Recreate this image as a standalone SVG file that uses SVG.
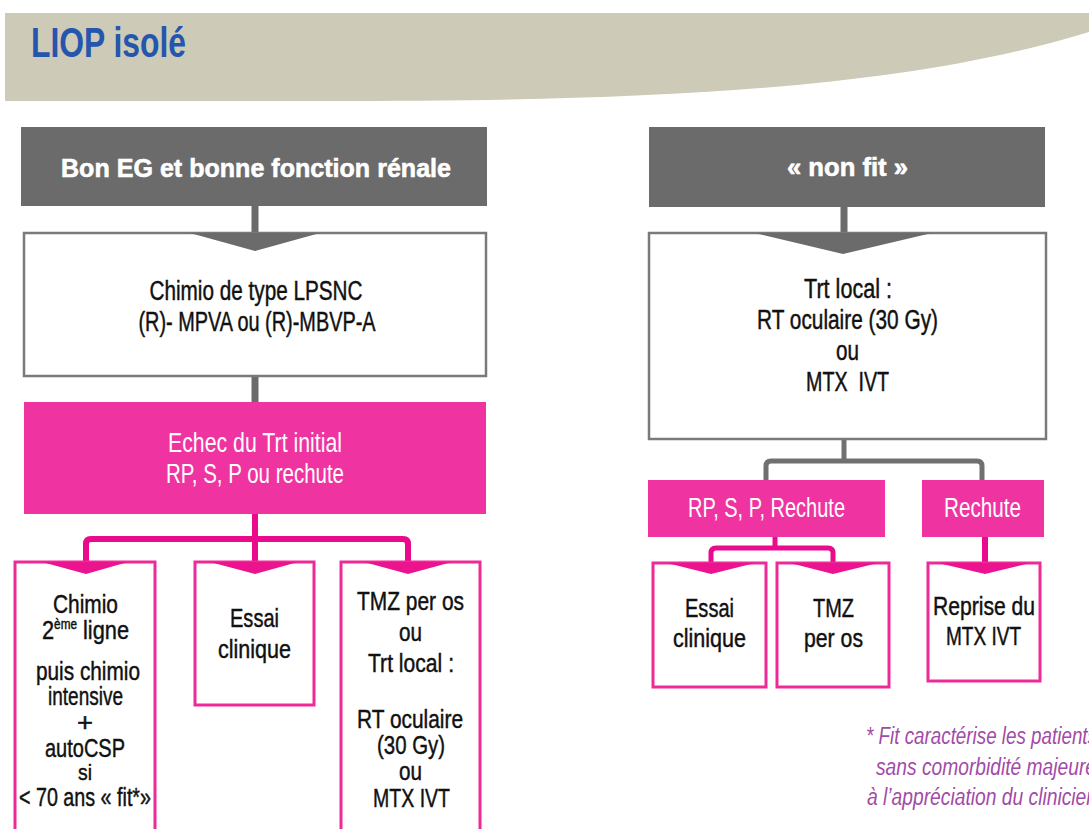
<svg xmlns="http://www.w3.org/2000/svg" width="1089" height="829" viewBox="0 0 1089 829">
<style>
.t{font-family:"Liberation Sans Narrow","Liberation Sans",Arial,sans-serif;font-size:26px;fill:#111;stroke:#111;stroke-width:0.45;text-anchor:middle}
.tl{font-size:27px}
.w{fill:#fff;stroke:none}
.hd{font-family:"Liberation Sans",Arial,sans-serif;font-weight:bold;font-size:26px;fill:#fff;stroke:#fff;stroke-width:0.6;text-anchor:middle}
.gbox{fill:#6b6b6b}
.wbox{fill:#fff;stroke:#7a7a7a;stroke-width:2.5}
.pbox{fill:#ef34a1}
.pwbox{fill:#fff;stroke:#ee2a98;stroke-width:3}
.gtri{fill:#6b6b6b}
.ptri{fill:#ec138f}
.gc{fill:none;stroke:#6b6b6b;stroke-width:7}
.gc2{fill:none;stroke:#707070;stroke-width:5}
.pc{fill:none;stroke:#ea0a8c;stroke-width:6}
.fn{font-family:"Liberation Sans",Arial,sans-serif;font-style:italic;font-size:23px;fill:#a24aa8}
</style>
<rect width="1089" height="829" fill="#fff"/>
<g id="banner">
<path d="M5,13 L1089,13 L1089,32 C900,90 650,101 330,101 L5,101 Z" fill="#cdcab7"/>
<text x="31" y="57" font-family="Liberation Sans, Arial, sans-serif" font-weight="bold" font-size="42" fill="#2456ad" textLength="155" lengthAdjust="spacingAndGlyphs">LIOP isolé</text>
</g>
<g id="connectors">
<path class="gc" d="M255,205 V234"/>
<path class="gc" d="M255,376 V403"/>
<path class="pc" d="M255,514 V562"/>
<path class="pc" d="M86,562 V544 Q86,539 91,539 H403 Q408,539 408,544 V562"/>
<path class="gc" d="M844,207 V234"/>
<path class="gc2" d="M844,439 V461"/>
<path class="gc2" d="M766,480 V466 Q766,461 771,461 H977 Q982,461 982,466 V480"/>
<path class="pc" style="stroke-width:5" d="M775,537 V548"/>
<path class="pc" style="stroke-width:5" d="M711,563 V553 Q711,548 716,548 H828 Q833,548 833,553 V563"/>
<path class="pc" d="M985,537 V563"/>
</g>
<g id="n-bon-eg">
<rect class="gbox" x="21" y="127" width="466" height="79"/>
<text class="hd" x="256" y="177" textLength="390" lengthAdjust="spacingAndGlyphs">Bon EG et bonne fonction rénale</text>
</g>
<g id="n-chimio-lpsnc">
<rect class="wbox" x="24" y="233" width="462" height="143"/>
<polygon class="gtri" points="190,233 320,233 255,251"/>
<text class="t tl" x="256" y="300" textLength="213" lengthAdjust="spacingAndGlyphs">Chimio de type LPSNC</text>
<text class="t tl" x="0" y="0" transform="translate(257,331) scale(0.737,1)">(R)- MPVA ou (R)-MBVP-A</text>
</g>
<g id="n-echec">
<rect class="pbox" x="24" y="402" width="462" height="112"/>
<text class="t tl w" x="255" y="452" textLength="174" lengthAdjust="spacingAndGlyphs">Echec du Trt initial</text>
<text class="t tl w" x="255" y="483" textLength="178" lengthAdjust="spacingAndGlyphs">RP, S, P ou rechute</text>
</g>
<g id="n-chimio-2">
<rect class="pwbox" x="15" y="562" width="140" height="280"/>
<polygon class="ptri" points="42,562 128,562 86,574"/>
<text class="t" x="85.5" y="613" textLength="65" lengthAdjust="spacingAndGlyphs">Chimio</text>
<text class="t" x="85.5" y="639" textLength="87" lengthAdjust="spacingAndGlyphs">2<tspan font-size="14" dy="-10">ème</tspan><tspan dy="10"> ligne</tspan></text>
<text class="t" x="88" y="680" textLength="104" lengthAdjust="spacingAndGlyphs">puis chimio</text>
<text class="t" x="85.5" y="705" textLength="75" lengthAdjust="spacingAndGlyphs">intensive</text>
<text class="t" x="85" y="731" textLength="16" lengthAdjust="spacingAndGlyphs">+</text>
<text class="t" x="85" y="757" textLength="80" lengthAdjust="spacingAndGlyphs">autoCSP</text>
<text class="t" x="85" y="780" style="font-size:22px" textLength="14" lengthAdjust="spacingAndGlyphs">si</text>
<text class="t" x="85" y="806" textLength="132" lengthAdjust="spacingAndGlyphs">&lt; 70 ans « fit*»</text>
</g>
<g id="n-essai-1">
<rect class="pwbox" x="195" y="562" width="119" height="143"/>
<polygon class="ptri" points="210,562 298,562 255,574"/>
<text class="t" x="254.5" y="627" textLength="49" lengthAdjust="spacingAndGlyphs">Essai</text>
<text class="t" x="254.5" y="658" textLength="73" lengthAdjust="spacingAndGlyphs">clinique</text>
</g>
<g id="n-tmz-1">
<rect class="pwbox" x="341" y="562" width="139" height="280"/>
<polygon class="ptri" points="364,562 452,562 408,574"/>
<text class="t" x="410.5" y="610" textLength="107" lengthAdjust="spacingAndGlyphs">TMZ per os</text>
<text class="t" x="410.5" y="641" textLength="23" lengthAdjust="spacingAndGlyphs">ou</text>
<text class="t" x="411" y="672" textLength="86" lengthAdjust="spacingAndGlyphs">Trt local :</text>
<text class="t" x="410" y="728" textLength="106" lengthAdjust="spacingAndGlyphs">RT oculaire</text>
<text class="t" x="411" y="754" textLength="68" lengthAdjust="spacingAndGlyphs">(30 Gy)</text>
<text class="t" x="410.5" y="780" textLength="23" lengthAdjust="spacingAndGlyphs">ou</text>
<text class="t" x="411.5" y="807" textLength="77" lengthAdjust="spacingAndGlyphs">MTX IVT</text>
</g>
<g id="n-non-fit">
<rect class="gbox" x="649" y="127" width="396" height="80"/>
<text class="hd" x="847.5" y="176" textLength="121" lengthAdjust="spacingAndGlyphs">« non fit »</text>
</g>
<g id="n-trt-local">
<rect class="wbox" x="649" y="233" width="397" height="206"/>
<polygon class="gtri" points="755,233 932,233 843,254"/>
<text class="t tl" x="848" y="298" textLength="88" lengthAdjust="spacingAndGlyphs">Trt local :</text>
<text class="t tl" x="847.5" y="329" textLength="181" lengthAdjust="spacingAndGlyphs">RT oculaire (30 Gy)</text>
<text class="t tl" x="847.5" y="360" textLength="23" lengthAdjust="spacingAndGlyphs">ou</text>
<text class="t tl" x="847.5" y="391" textLength="83" lengthAdjust="spacingAndGlyphs" xml:space="preserve">MTX  IVT</text>
</g>
<g id="n-rp-s-p">
<rect class="pbox" x="648" y="480" width="237" height="57"/>
<text class="t tl w" x="766.5" y="517" textLength="157" lengthAdjust="spacingAndGlyphs">RP, S, P, Rechute</text>
</g>
<g id="n-rechute">
<rect class="pbox" x="922" y="480" width="122" height="57"/>
<text class="t tl w" x="982.5" y="517" textLength="77" lengthAdjust="spacingAndGlyphs">Rechute</text>
</g>
<g id="n-essai-2">
<rect class="pwbox" x="653" y="563" width="113" height="124"/>
<polygon class="ptri" points="667,563 755,563 711,574"/>
<text class="t" x="709.5" y="617" textLength="49" lengthAdjust="spacingAndGlyphs">Essai</text>
<text class="t" x="709.5" y="647" textLength="73" lengthAdjust="spacingAndGlyphs">clinique</text>
</g>
<g id="n-tmz-2">
<rect class="pwbox" x="777" y="563" width="112" height="124"/>
<polygon class="ptri" points="790,563 878,563 833,574"/>
<text class="t" x="833.5" y="617" textLength="41" lengthAdjust="spacingAndGlyphs">TMZ</text>
<text class="t" x="833.5" y="647" textLength="59" lengthAdjust="spacingAndGlyphs">per os</text>
</g>
<g id="n-reprise">
<rect class="pwbox" x="928" y="563" width="112" height="118"/>
<polygon class="ptri" points="938,563 1030,563 985,574"/>
<text class="t" x="984" y="615" textLength="102" lengthAdjust="spacingAndGlyphs">Reprise du</text>
<text class="t" x="983.5" y="645" textLength="75" lengthAdjust="spacingAndGlyphs">MTX IVT</text>
</g>
<g id="footnote">
<text class="fn" x="866" y="744" textLength="231" lengthAdjust="spacingAndGlyphs">* Fit caractérise les patients</text>
<text class="fn" x="876" y="775" textLength="220" lengthAdjust="spacingAndGlyphs">sans comorbidité majeure</text>
<text class="fn" x="867" y="805" textLength="230" lengthAdjust="spacingAndGlyphs">à l’appréciation du clinicien</text>
</g>
</svg>
